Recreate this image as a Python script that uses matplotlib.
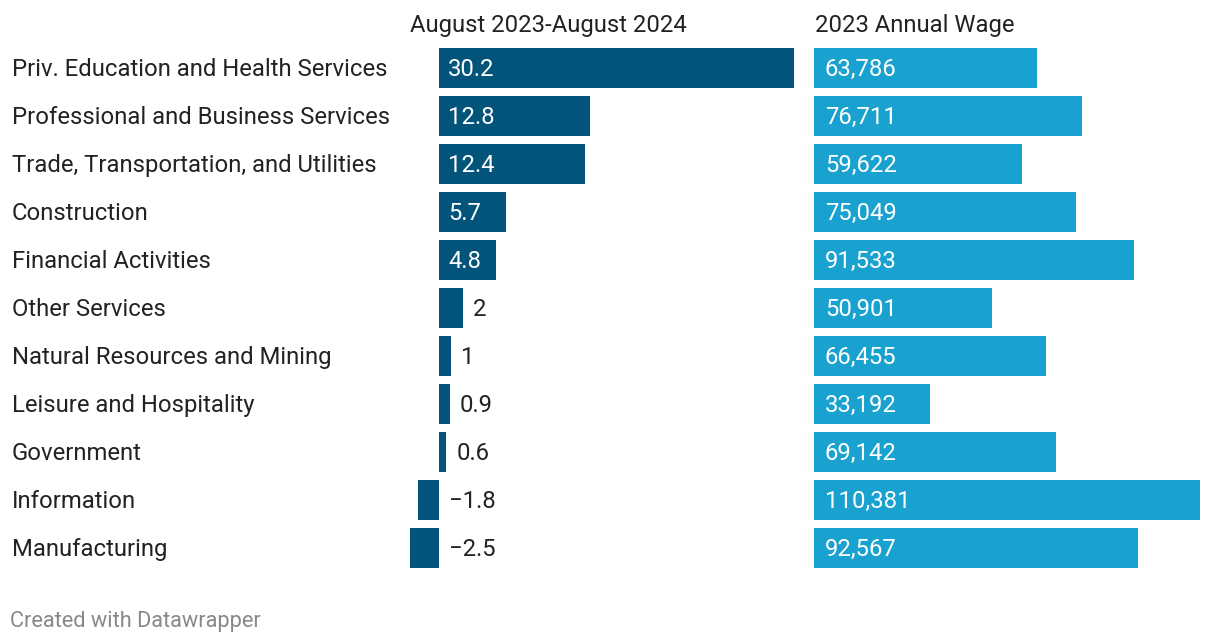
import matplotlib.pyplot as plt
from matplotlib.transforms import offset_copy

plt.rcParams["font.family"] = ["Roboto", "DejaVu Sans"]

industries = ["Priv. Education and Health Services", "Professional and Business Services",
              "Trade, Transportation, and Utilities", "Construction", "Financial Activities",
              "Other Services", "Natural Resources and Mining", "Leisure and Hospitality",
              "Government", "Information", "Manufacturing"]
job_change = [30.2, 12.8, 12.4, 5.7, 4.8, 2, 1, 0.9, 0.6, -1.8, -2.5]
annual_wage = [63786, 76711, 59622, 75049, 91533, 50901, 66455, 33192, 69142, 110381, 92567]

W, H = 1220, 644
dark = "#03547b"
light = "#19a2cf"
txt = "#222222"
fs = 17.2

fig = plt.figure(figsize=(W / 100, H / 100), dpi=100)


def px_axes(x0, x1, y0, y1):
    return fig.add_axes([x0 / W, 1 - y1 / H, (x1 - x0) / W, (y1 - y0) / H])


n = len(industries)
ypos = list(range(n))

ax1 = px_axes(410, 794, 44, 572)
ax1.barh(ypos, job_change, height=40 / 48, color=dark)
ax1.set_xlim(min(job_change), max(job_change))
ax1.set_ylim(n - 0.5, -0.5)

for i, v in enumerate(job_change):
    label = f"{v:g}".replace("-", "\u2212")
    if v >= 4:
        tr = offset_copy(ax1.transData, fig=fig, x=9, y=1, units="dots")
        ax1.text(0, i, label, color="white", fontsize=fs, va="center_baseline", ha="left", transform=tr)
    else:
        tr = offset_copy(ax1.transData, fig=fig, x=10, y=1, units="dots")
        ax1.text(max(v, 0), i, label, color=txt, fontsize=fs, va="center_baseline", ha="left", transform=tr)

ax2 = px_axes(814, 1200, 44, 572)
ax2.barh(ypos, annual_wage, height=40 / 48, color=light)
ax2.set_xlim(0, max(annual_wage))
ax2.set_ylim(n - 0.5, -0.5)
tr2 = offset_copy(ax2.transData, fig=fig, x=11, y=1, units="dots")
for i, v in enumerate(annual_wage):
    ax2.text(0, i, f"{v:,}", color="white", fontsize=fs, va="center_baseline", ha="left", transform=tr2)

for ax in (ax1, ax2):
    ax.axis("off")

# category labels
for i, name in enumerate(industries):
    fig.text(12 / W, 1 - (67 + 48 * i) / H, name, color=txt, fontsize=fs, va="center_baseline", ha="left")

fig.text(410 / W, 1 - 23 / H, "August 2023-August 2024", color=txt, fontsize=fs, va="center_baseline", ha="left")
fig.text(815 / W, 1 - 23 / H, "2023 Annual Wage", color=txt, fontsize=fs, va="center_baseline", ha="left")
fig.text(10 / W, 1 - 619 / H, "Created with Datawrapper", color="#888888", fontsize=15.7, va="center_baseline", ha="left")

fig.savefig("out.png", dpi=100, facecolor="white")
